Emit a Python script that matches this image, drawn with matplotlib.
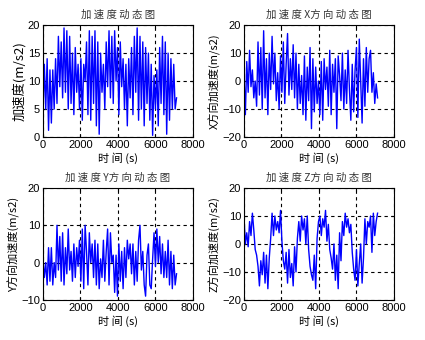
import numpy as np
import matplotlib.pyplot as plt

plt.rcParams['font.family'] = ['Noto Sans CJK SC', 'DejaVu Sans']

dt = 75  # intervalo de amostragem (s)

# aceleracao total
acc = [4, 13, 5, 14, 1.2, 12, 2.5, 12, 5, 14,
       6, 18, 9, 17, 7, 19.5, 8, 19, 5, 18,
       6, 15, 4, 16, 8, 13, 5, 14, 3, 13,
       10, 17, 4, 19, 3, 18, 6, 19, 2, 17,
       0.5, 15, 8, 13, 5, 17, 9, 19, 7, 18,
       6, 19, 10, 16, 4, 17, 9, 14, 5, 13,
       2, 14, 7, 16, 4, 18, 8, 19.5, 3, 18,
       5, 17, 2, 16, 6, 15, 3, 13, 0.3, 11,
       5, 12, 2, 16, 6, 18, 4, 17, 0.5, 15,
       3, 14, 5, 13, 5, 7]

# direcao X
acc_x = [3, -12, 7, -4, 11, -2, 4, -6, 0, -9,
         14, -5, 12, -10, 18, -6, 8, -12, 10, -3,
         16, -1, 10, -7, 3, -10, 9, -4, 14, -8,
         6, 17, -5, 8, -3, 13, -6, 10, -10, 6,
         -8, 2, -12, 9, -14, 5, -7, 12, -17, 8,
         -11, 5, -8, 0, -12, 7, -14, 8, -3, 5,
         -9, 11, -12, 6, -4, 8, -17, 9, 2, -7,
         10, -10, 4, -8, 11, -3, -14, 6, -11, 4,
         12, -13, 15, 0, -15, 8, -9, 12, -4, 8,
         11, -4, 3, -8, -1, -6]

# direcao Y
acc_y = [1, -4, 0, -6, 4, -5, 4, -6, 0, -4,
         10, -2, 7, -5, 8, -6, 4, -3, 9, -2,
         3, -5, 5, -4, 4, -1, 6, -5, 9, -7,
         10, 3, -6, 8, 0, 5, -4, 6, -6, 5,
         -7, 1, -4, 6, -5, 3, 9, -6, 8, 0,
         2, -8, 2, -9, 5, -5, 3, -7, 4, -4,
         6, 1, 5, -3, 5, -6, 3, -5, 6, 10,
         -2, 3, -6, -9, 2, 5, -6, -7, 1, 8,
         -1, 9, 0, 7, -3, 5, -4, 3, -4, 6,
         -6, 3, -7, 2, -6, -3]

# direcao Z
acc_z = [10, 0, 4, -1, 8, 3, 11, 5, -2, -4,
         -8, -15, -6, -11, -3, -14, -4, -16, -5, 2,
         11, 3, 10, 5, 8, 4, 12, 1, -6, -9,
         -3, -14, -2, -12, -7, -15, -1, -10, 2, 8,
         1, 10, 5, 9, 0, 10, -2, -8, -11, -13,
         -4, -16, 2, 8, 10, 3, 9, 6, 12, 1,
         7, -2, -5, -9, 0, -13, -4, -16, 4, -6,
         8, 3, 11, 6, 9, 4, 7, -3, -9, -13,
         -2, -15, -7, 0, -14, -5, 9, 0, 8, 6,
         10, -3, 11, 3, 8, 11]

series = [acc, acc_x, acc_y, acc_z]
titulos = ['加 速 度 动 态 图', '加 速 度 X方 向 动 态 图',
           '加 速 度 Y方 向 动 态 图', '加 速 度 Z方 向 动 态 图']
ylabels = ['加速度(m/s2)', 'X方向加速度(m/s2)', 'Y方向加速度(m/s2)', 'Z方向加速度(m/s2)']
ylims = [(0, 20), (-20, 20), (-10, 20), (-20, 20)]
yticks = [[0, 5, 10, 15, 20], [-20, -10, 0, 10, 20], [-10, 0, 10, 20], [-20, -10, 0, 10, 20]]
xticks = [0, 2000, 4000, 6000, 8000]

pos = [[0.101, 0.597, 0.353, 0.329], [0.574, 0.597, 0.353, 0.329],
       [0.101, 0.118, 0.353, 0.329], [0.574, 0.118, 0.353, 0.329]]

fig = plt.figure(figsize=(4.25, 3.4), dpi=100)
for i in range(4):
    ax = fig.add_axes(pos[i])
    y = np.array(series[i])
    t = np.arange(len(y)) * dt
    ax.plot(t, y, color='#0000ff', lw=1.0)
    ax.set_xlim(0, 8000)
    ax.set_ylim(*ylims[i])
    ax.set_xticks(xticks)
    ax.set_yticks(yticks[i])
    ax.tick_params(direction='in', length=2, pad=2, top=True, right=True)
    for lab in ax.get_xticklabels() + ax.get_yticklabels():
        lab.set_fontfamily('Liberation Sans')
        lab.set_fontsize(8)
    ax.grid(True, color='k', ls=(0, (3, 3)), lw=0.8)
    ax.set_title(titulos[i], fontsize=7.5, color='#333333', pad=5)
    ax.set_xlabel('时 间 (s)', fontsize=8, labelpad=2)
    ax.set_ylabel(ylabels[i], fontsize=9.5 if i == 0 else 8, labelpad=1)
    for s in ax.spines.values():
        s.set_linewidth(0.8)

plt.savefig('out.png', dpi=100)
